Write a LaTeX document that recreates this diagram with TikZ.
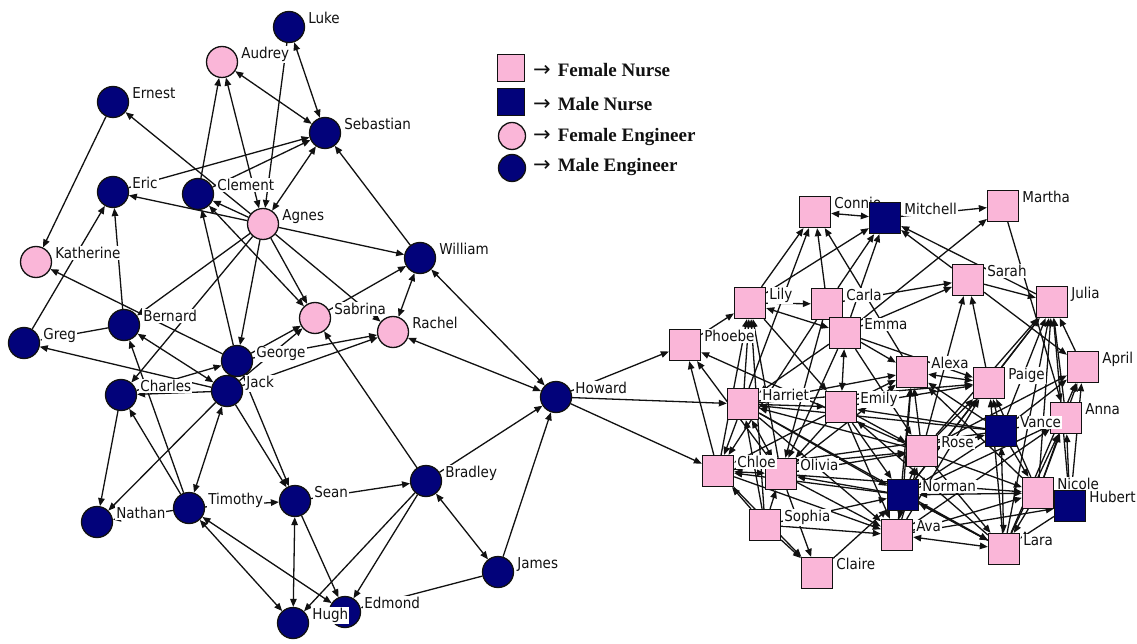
\documentclass[tikz,border=0pt]{standalone}
\usepackage{fontspec}
\setmainfont{DejaVu Sans Condensed}
\newfontfamily\legendfont{Liberation Serif}
\newfontfamily\arrowfont{DejaVu Sans}
\usetikzlibrary{arrows.meta}
\definecolor{pinkc}{RGB}{250,182,216}
\definecolor{navyc}{RGB}{2,2,122}
\definecolor{ink}{RGB}{17,17,17}
\pgfdeclarelayer{paper}
\pgfdeclarelayer{links}
\pgfsetlayers{paper,links,main}
\tikzset{
  person/.style={draw=ink, line width=1.3pt, inner sep=0pt, minimum size=31pt},
  fe/.style={person, circle, fill=pinkc},
  me/.style={person, circle, fill=navyc},
  fn/.style={person, rectangle, fill=pinkc},
  mn/.style={person, rectangle, fill=navyc},
  lbl/.style={anchor=base west, fill=white, inner sep=1pt, text=ink,
    font=\fontsize{15}{16}\selectfont},
  tip/.style={line width=1.3pt, draw=ink},
  one/.style={tip, -{Triangle[length=8pt,width=6.5pt]}},
  two/.style={tip, {Triangle[length=8pt,width=6.5pt]}-{Triangle[length=8pt,width=6.5pt]}},
  legtxt/.style={anchor=base west, inner sep=0pt, text=ink,
    font=\legendfont\bfseries\fontsize{19}{20}\selectfont},
}
\newcommand\keyarrow{{\arrowfont\mdseries\fontsize{21}{21}\selectfont →}\hspace{7pt}}
% a person: shape style, name, x, y (pixels, y downwards); the name is printed beside it
\newcommand\who[4]{%
  \node[#1] (#2) at (#3,#4) {};
  \node[lbl] (#2-lbl) at ([xshift=2pt,yshift=3.2pt]#2.east) {#2};}
\begin{document}
\begin{tikzpicture}[x=1pt,y=-1pt]
\useasboundingbox (0,0) rectangle (1137,644);
\begin{pgfonlayer}{paper}
  \fill[white] (0,0) rectangle (1137,644);
\end{pgfonlayer}

% ---------------- engineers ----------------
\who{me}{Luke}{289}{27}
\who{fe}{Audrey}{222}{62}
\who{me}{Ernest}{113}{102}
\who{me}{Sebastian}{325}{133}
\who{me}{Eric}{113}{192}
\who{me}{Clement}{198}{194}
\who{fe}{Agnes}{263}{224}
\who{fe}{Katherine}{36}{262}
\who{me}{William}{420}{258}
\who{me}{Bernard}{124}{325}
\who{me}{Greg}{24}{343}
\who{fe}{Sabrina}{315}{318}
\who{fe}{Rachel}{393}{332}
\who{me}{George}{237}{361}
\who{me}{Charles}{121}{395}
\who{me}{Jack}{227}{391}
\who{me}{Howard}{556}{397}
\who{me}{Bradley}{426}{481}
\who{me}{Sean}{295}{501}
\who{me}{Timothy}{189}{508}
\who{me}{Nathan}{97}{522}
\who{me}{James}{498}{572}
\who{me}{Edmond}{345}{612}
\who{me}{Hugh}{293}{623}

% ---------------- nurses ----------------
\who{fn}{Connie}{815}{212}
\who{mn}{Mitchell}{885}{218}
\who{fn}{Martha}{1003}{206}
\who{fn}{Sarah}{968}{280}
\who{fn}{Julia}{1052}{302}
\who{fn}{Lily}{750}{303}
\who{fn}{Carla}{827}{304}
\who{fn}{Emma}{845}{333}
\who{fn}{Phoebe}{685}{345}
\who{fn}{April}{1083}{367}
\who{fn}{Alexa}{912}{372}
\who{fn}{Paige}{989}{383}
\who{fn}{Harriet}{743}{404}
\who{fn}{Emily}{841}{407}
\who{fn}{Anna}{1066}{418}
\who{mn}{Vance}{1001}{431}
\who{fn}{Rose}{922}{451}
\who{fn}{Olivia}{781}{474}
\who{fn}{Chloe}{718}{471}
\who{mn}{Norman}{903}{495}
\who{fn}{Nicole}{1038}{493}
\who{mn}{Hubert}{1070}{506}
\who{fn}{Sophia}{765}{525}
\who{fn}{Ava}{897}{535}
\who{fn}{Lara}{1004}{549}
\who{fn}{Claire}{817}{573}

% ---------------- legend ----------------
\node[person, rectangle, fill=pinkc, minimum size=27pt] (keyFN) at (511,68) {};
\node[person, rectangle, fill=navyc, minimum size=27pt] (keyMN) at (511,102) {};
\node[person, circle, fill=pinkc, minimum size=27pt] (keyFE) at (512,136) {};
\node[person, circle, fill=navyc, minimum size=27pt] (keyME) at (512,168) {};
\node[legtxt] (keyFN-t) at (533,76.5) {\keyarrow Female Nurse};
\node[legtxt] (keyMN-t) at (533,110.5) {\keyarrow Male Nurse};
\node[legtxt] (keyFE-t) at (533,142) {\keyarrow Female Engineer};
\node[legtxt] (keyME-t) at (533,172) {\keyarrow Male Engineer};

% ---------------- ties ----------------
\begin{pgfonlayer}{links}
\foreach \a/\b in {
  Luke/Agnes, Agnes/Ernest, Agnes/Eric, Agnes/Clement, Agnes/William,
  Agnes/Sabrina, Agnes/Rachel, Agnes/Bernard, Agnes/Charles, Agnes/George,
  Clement/Audrey, Clement/Sebastian, Eric/Sebastian, William/Sebastian,
  Ernest/Katherine, Greg/Eric, George/Katherine, Bernard/Eric, Bernard/Greg,
  Jack/Greg, Timothy/Bernard, Timothy/Charles, Jack/Charles, Charles/George,
  Charles/Nathan, Jack/Nathan, Timothy/Nathan, George/Clement, George/Sabrina,
  Jack/Sabrina, George/Rachel, Jack/Rachel, George/Sean, Jack/Sean,
  Timothy/Sean, Sean/Edmond, Sean/Bradley, Bradley/Sabrina, Bradley/Howard,
  Bradley/Hugh, Bradley/Edmond, James/Howard, James/Edmond, Sabrina/William,
  Howard/Phoebe, Howard/Harriet, Howard/Chloe}
  \draw[one] (\a) -- (\b);
\foreach \a/\b in {
  Luke/Sebastian, Audrey/Sebastian, Audrey/Agnes, Sebastian/Agnes,
  Clement/Sabrina, Bernard/Jack, Timothy/Jack, Timothy/Hugh, Timothy/Edmond,
  Sean/Hugh, Bradley/James, Howard/Rachel, William/Rachel, William/Howard}
  \draw[two] (\a) -- (\b);
% among the nurses
\foreach \a/\b in {
  Lily/Connie, Lily/Mitchell, Harriet/Connie, Carla/Connie, Alexa/Connie,
  Carla/Mitchell, Emma/Mitchell, Sarah/Mitchell, Julia/Mitchell, Mitchell/Martha,
  Emma/Martha, Martha/Anna, Carla/Sarah, Emma/Sarah, Paige/Sarah, Sarah/Julia,
  Sarah/April, Rose/Sarah, Phoebe/Lily, Lily/Carla, Harriet/Lily, Chloe/Lily,
  Olivia/Lily, Sophia/Lily, Lily/Emily, Rose/Phoebe, Chloe/Phoebe, Olivia/Phoebe,
  Carla/Olivia, Carla/Chloe, Emma/Harriet, Emma/Alexa, Emma/Rose, Emma/Olivia,
  Emma/Paige, Paige/Julia, Vance/Julia, Nicole/Julia, Lara/Julia, Anna/Julia,
  April/Julia, Rose/Julia, Norman/Julia, Hubert/Julia, Vance/April, Nicole/April,
  Lara/April, Hubert/April, Rose/April, Hubert/Anna, Nicole/Anna, Lara/Anna,
  Norman/Anna, Ava/Anna, Vance/Anna, Emily/Paige, Harriet/Paige, Vance/Paige,
  Rose/Paige, Norman/Paige, Ava/Paige, Lara/Paige, Nicole/Paige, Emily/Alexa,
  Rose/Alexa, Norman/Alexa, Ava/Alexa, Vance/Alexa, Nicole/Alexa, Olivia/Alexa,
  Harriet/Alexa, Vance/Emily, Vance/Nicole, Vance/Norman, Rose/Vance,
  Vance/Harriet, Vance/Chloe, Olivia/Rose, Rose/Harriet, Emily/Rose, Norman/Rose,
  Ava/Rose, Rose/Lara, Rose/Nicole, Chloe/Rose, Norman/Olivia, Sophia/Norman,
  Claire/Norman, Emily/Norman, Lara/Norman, Norman/Ava, Harriet/Norman,
  Norman/Chloe, Olivia/Ava, Chloe/Ava, Ava/Hubert, Ava/Nicole, Emily/Ava,
  Harriet/Ava, Sophia/Ava, Hubert/Lara, Nicole/Lara, Norman/Lara, Harriet/Lara,
  Olivia/Nicole, Harriet/Chloe, Sophia/Chloe, Sophia/Olivia, Sophia/Harriet,
  Sophia/Claire, Olivia/Claire, Chloe/Claire, Emily/Olivia, Emily/Chloe,
  Harriet/Emily, Lara/Emily}
  \draw[one] (\a) -- (\b);
\foreach \a/\b in {
  Connie/Mitchell, Lily/Emma, Paige/Alexa, Vance/Lara, Norman/Nicole,
  Ava/Lara, Chloe/Olivia, Harriet/Olivia, Emma/Emily}
  \draw[two] (\a) -- (\b);
\end{pgfonlayer}
\end{tikzpicture}
\end{document}
